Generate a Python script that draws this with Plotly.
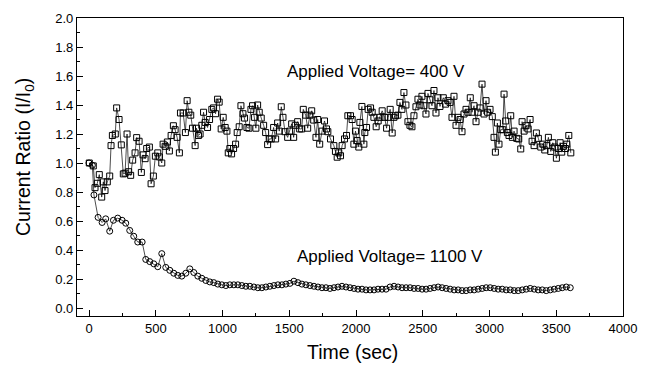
import plotly.graph_objects as go

# 400 V series (squares): time (s), current ratio
sq_t = [2, 32, 45, 62, 77, 95, 107, 120, 137, 155, 165, 175, 197, 207, 225, 242, 257, 270, 285, 297,
        312, 327, 345, 357, 375, 392, 405, 420, 432, 452, 465, 482, 497, 515, 527, 545, 555, 570, 587, 602,
        615, 632, 645, 660, 677, 685, 705, 722, 735, 748, 762, 775, 795, 805, 820, 832,
        845, 858, 870, 888, 903, 920, 933, 948, 963, 975, 990, 1005, 1020, 1033, 1043, 1055, 1068, 1083,
        1098, 1110, 1125, 1138, 1153, 1165, 1183, 1198, 1213, 1225, 1240, 1250, 1263, 1275, 1290, 1308,
        1323, 1338, 1350, 1365, 1383, 1398, 1413, 1425, 1440, 1453, 1468, 1488, 1503, 1518, 1533, 1545,
        1563, 1578, 1593, 1605, 1623, 1638, 1655, 1668, 1683, 1700, 1713, 1728,
        1746, 1764, 1779, 1789, 1809, 1834, 1846, 1859, 1871, 1884, 1896, 1914, 1929, 1939, 1959, 1971,
        1984, 1996, 2009, 2021, 2029, 2044, 2059, 2066, 2079, 2091, 2109, 2121, 2134, 2151, 2166, 2179,
        2196, 2214, 2229, 2241, 2256, 2271, 2284, 2296, 2314, 2329, 2344, 2359, 2374, 2389, 2404, 2419,
        2434, 2449, 2464, 2479, 2494, 2509, 2524, 2539, 2554, 2569, 2584, 2599, 2614, 2629,
        2654, 2671, 2689, 2704, 2719, 2734, 2749, 2764, 2779, 2794, 2809, 2824, 2839, 2856, 2869, 2884,
        2899, 2914, 2929, 2944, 2959, 2974, 2986, 3004, 3021, 3034, 3044, 3059, 3071, 3084, 3099, 3109,
        3121, 3134, 3146, 3159, 3171, 3184, 3204, 3219, 3234, 3244, 3259, 3274, 3289, 3304, 3319, 3334,
        3351, 3366, 3384, 3399, 3414, 3429, 3441, 3459, 3474, 3489, 3501, 3516, 3529, 3541, 3554, 3569,
        3579, 3594, 3609]
sq_v = [1.00, 0.98, 0.83, 0.86, 0.92, 0.765, 0.87, 0.81, 0.87, 0.91, 1.12, 1.19, 1.20, 1.38, 1.30, 1.125, 0.925, 0.93, 1.20, 0.94,
        0.915, 1.02, 1.07, 1.175, 1.15, 0.935, 1.056, 1.03, 1.10, 1.11, 0.857, 0.91, 1.047, 1.07, 1.042, 1.00, 1.13, 1.115, 1.145, 1.083,
        1.19, 1.257, 1.23, 1.177, 1.07, 1.345, 1.345, 1.21, 1.43, 1.35, 1.33, 1.24, 1.12, 1.24, 1.19, 1.20,
        1.26, 1.35, 1.28, 1.245, 1.30, 1.37, 1.38, 1.34, 1.44, 1.42, 1.235, 1.315, 1.245, 1.22, 1.07, 1.10, 1.063, 1.10,
        1.13, 1.21, 1.25, 1.395, 1.34, 1.31, 1.245, 1.24, 1.37, 1.395, 1.315, 1.24, 1.40, 1.35, 1.31, 1.26,
        1.21, 1.127, 1.166, 1.166, 1.245, 1.166, 1.276, 1.22, 1.388, 1.315, 1.216, 1.177, 1.22, 1.27, 1.177, 1.26,
        1.285, 1.235, 1.235, 1.37, 1.33, 1.24, 1.33, 1.36, 1.296, 1.177, 1.30, 1.13,
        1.22, 1.29, 1.235, 1.216, 1.166, 1.12, 1.08, 1.04, 1.07, 1.05, 1.12, 1.166, 1.19, 1.326, 1.326, 1.30,
        1.13, 1.22, 1.155, 1.11, 1.28, 1.39, 1.13, 1.21, 1.245, 1.37, 1.38, 1.35, 1.315, 1.25, 1.29, 1.315,
        1.36, 1.315, 1.24, 1.315, 1.37, 1.207, 1.315, 1.326, 1.33, 1.418, 1.37, 1.486, 1.40, 1.285, 1.26, 1.25,
        1.326, 1.388, 1.44, 1.40, 1.46, 1.395, 1.338, 1.48, 1.436, 1.395, 1.50, 1.345, 1.45, 1.39,
        1.45, 1.406, 1.43, 1.418, 1.315, 1.46, 1.26, 1.315, 1.30, 1.216, 1.338, 1.37, 1.35, 1.45, 1.35, 1.395,
        1.285, 1.35, 1.38, 1.544, 1.338, 1.43, 1.35, 1.37, 1.32, 1.177, 1.075, 1.276, 1.13, 1.23, 1.23, 1.475,
        1.29, 1.21, 1.19, 1.326, 1.177, 1.22, 1.17, 1.166, 1.097, 1.285, 1.22, 1.257, 1.235, 1.30, 1.15, 1.12,
        1.207, 1.17, 1.11, 1.13, 1.09, 1.12, 1.177, 1.08, 1.14, 1.11, 1.033, 1.10, 1.14, 1.075, 1.115, 1.10,
        1.13, 1.19, 1.07]

# 1100 V series (circles): time (s), current ratio
ci_t_early = [0, 25, 37, 68, 98, 125, 155, 183, 215, 248, 275, 305, 335, 365, 398, 425, 455, 485, 515, 545,
              575, 605, 635, 665, 695, 725, 755, 785, 815, 845, 875, 905, 935, 965, 995, 1025, 1055, 1085, 1115]
ci_v_early = [1.00, 0.985, 0.78, 0.625, 0.59, 0.615, 0.53, 0.605, 0.62, 0.605, 0.585, 0.535, 0.495, 0.455, 0.455,
              0.335, 0.32, 0.305, 0.285, 0.375, 0.28, 0.26, 0.24, 0.225, 0.22, 0.24, 0.27, 0.245, 0.22, 0.205,
              0.19, 0.18, 0.175, 0.165, 0.16, 0.155, 0.16, 0.16, 0.16]
ci_t_late = [1145 + 30 * k for k in range(83)]
ci_v_late = [0.155, 0.15, 0.15, 0.145, 0.14, 0.14, 0.145, 0.15, 0.155, 0.16,
             0.16, 0.165, 0.17, 0.185, 0.175, 0.165,
             0.16, 0.155, 0.15, 0.145, 0.14, 0.14, 0.135, 0.14, 0.145, 0.15,
             0.145, 0.14, 0.135, 0.13, 0.13, 0.125, 0.125, 0.125, 0.13, 0.13, 0.13,
             0.145, 0.15, 0.145, 0.14, 0.14, 0.14, 0.135, 0.135, 0.13,
             0.13, 0.135, 0.14, 0.145, 0.14, 0.135,
             0.13, 0.125, 0.125, 0.12, 0.12, 0.125, 0.125,
             0.13, 0.135, 0.14, 0.14, 0.135, 0.13, 0.13,
             0.125, 0.125, 0.12, 0.12, 0.125, 0.13, 0.135,
             0.13, 0.125, 0.125, 0.12, 0.125, 0.13, 0.135, 0.14, 0.145, 0.14]
ci_t = ci_t_early + ci_t_late
ci_v = ci_v_early + ci_v_late

x_ticks = [0, 500, 1000, 1500, 2000, 2500, 3000, 3500, 4000]
y_ticks = [0.0, 0.2, 0.4, 0.6, 0.8, 1.0, 1.2, 1.4, 1.6, 1.8, 2.0]

x_title = "Time (sec)"
y_title = "Current Ratio (I/I<sub>0</sub>)"
label_400 = "Applied Voltage= 400 V"
label_1100 = "Applied Voltage= 1100 V"

FONT = "Liberation Sans, Arial, sans-serif"

fig = go.Figure()
fig.add_trace(go.Scatter(
    x=sq_t, y=sq_v, mode="lines+markers",
    line=dict(color="black", width=0.7),
    marker=dict(symbol="square-open", size=6, color="black", line=dict(width=1)),
    showlegend=False, hoverinfo="skip"))
fig.add_trace(go.Scatter(
    x=ci_t, y=ci_v, mode="lines+markers",
    line=dict(color="black", width=0.7),
    marker=dict(symbol="circle-open", size=6, color="black", line=dict(width=1)),
    showlegend=False, hoverinfo="skip"))

fig.add_annotation(x=2150, y=1.628, text=label_400, showarrow=False,
                   font=dict(size=17, color="black", family=FONT))
fig.add_annotation(x=2258, y=0.352, text=label_1100, showarrow=False,
                   font=dict(size=17, color="black", family=FONT))

# axis titles placed as paper-referenced text
fig.add_annotation(xref="paper", yref="paper", x=0.505, y=-0.122, text=x_title, showarrow=False,
                   xanchor="center", yanchor="middle", font=dict(size=19.5, color="black", family=FONT))
fig.add_annotation(xref="paper", yref="paper", x=-0.095, y=0.534, text=y_title, showarrow=False,
                   textangle=-90, xanchor="center", yanchor="middle",
                   font=dict(size=19.5, color="black", family=FONT))

fig.update_layout(
    width=650, height=369,
    margin=dict(l=77, r=27, t=18, b=53),
    paper_bgcolor="white", plot_bgcolor="white",
    font=dict(family=FONT, color="black"),
    xaxis=dict(range=[-90, 4000], tickvals=x_ticks, ticktext=[str(v) for v in x_ticks],
               ticks="inside", ticklen=6, tickwidth=1, tickcolor="black",
               minor=dict(ticks="inside", ticklen=3, dtick=250, tick0=0, tickcolor="black"),
               showline=True, linecolor="black", linewidth=1.2, mirror=True,
               showgrid=False, zeroline=False, tickfont=dict(size=13)),
    yaxis=dict(range=[-0.055, 2.0], tickvals=y_ticks, ticktext=[f"{v:.1f}" for v in y_ticks],
               ticks="inside", ticklen=6, tickwidth=1, tickcolor="black",
               minor=dict(ticks="inside", ticklen=3, dtick=0.1, tick0=0, tickcolor="black"),
               showline=True, linecolor="black", linewidth=1.2, mirror=True,
               showgrid=False, zeroline=False, tickfont=dict(size=13)),
)

fig.write_html("out.html")
